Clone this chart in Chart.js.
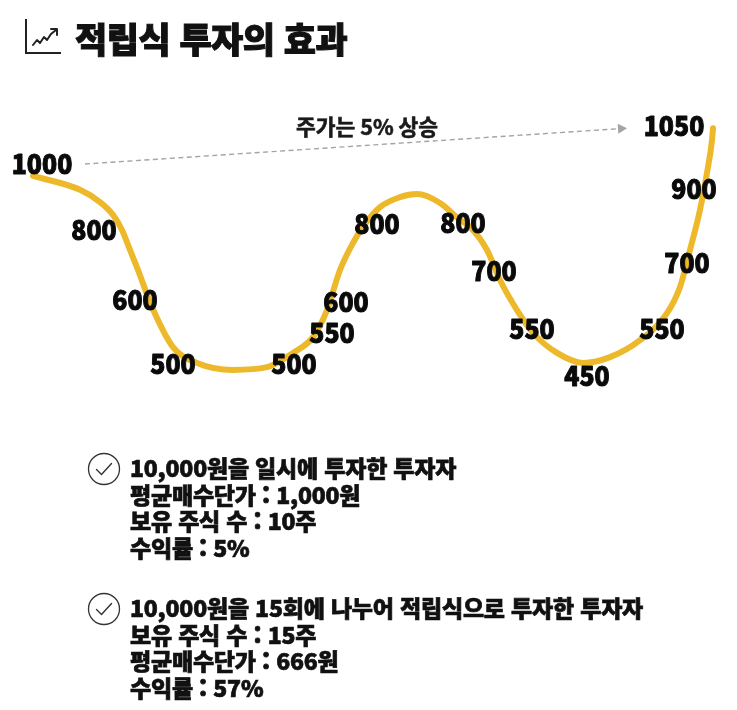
<!DOCTYPE html>
<html lang="ko">
<head>
<meta charset="utf-8">
<script src="https://cdn.jsdelivr.net/npm/chart.js@4.4.1/dist/chart.umd.min.js"></script>
<style>
  html,body{margin:0;padding:0;background:#fff;}
  body{width:737px;height:710px;position:relative;overflow:hidden;font-family:"Noto Sans CJK KR","Noto Sans",sans-serif;color:#111;}
  #wrap{position:absolute;left:0;top:0;width:737px;height:710px;}
  .title{position:absolute;left:75px;top:17px;font-size:35px;font-weight:900;line-height:42px;letter-spacing:-0.5px;white-space:nowrap;-webkit-text-stroke:1px #111;}
  .ticon{position:absolute;left:22px;top:16px;}
  .block{position:absolute;left:130px;font-size:23px;font-weight:900;line-height:26.5px;white-space:nowrap;letter-spacing:-0.2px;-webkit-text-stroke:0.7px #111;}
  .check{position:absolute;left:87px;}
</style>
</head>
<body>
<div id="wrap"><canvas id="c" width="737" height="710"></canvas></div>

<svg class="ticon" width="42" height="42" viewBox="0 0 42 42">
  <polyline points="4,3 4,37 39,37" fill="none" stroke="#222" stroke-width="2"/>
  <polyline points="11,29 15,24 18,27 22,21 25,24 29,18 34,14" fill="none" stroke="#222" stroke-width="2" stroke-linejoin="round" stroke-linecap="round"/>
  <polyline points="29,13 35,13 35,19" fill="none" stroke="#222" stroke-width="2" stroke-linejoin="round" stroke-linecap="round"/>
</svg>
<div class="title" id="title"></div>

<svg class="check" style="top:452px" width="34" height="34" viewBox="0 0 34 34">
  <circle cx="17" cy="17" r="15.5" fill="none" stroke="#333" stroke-width="1.3"/>
  <polyline points="9.5,17.5 14.5,22.5 24.5,11.5" fill="none" stroke="#333" stroke-width="1.4" stroke-linecap="round" stroke-linejoin="round"/>
</svg>
<div class="block" id="b1" style="top:454px"></div>

<svg class="check" style="top:592px" width="34" height="34" viewBox="0 0 34 34">
  <circle cx="17" cy="17" r="15.5" fill="none" stroke="#333" stroke-width="1.3"/>
  <polyline points="9.5,17.5 14.5,22.5 24.5,11.5" fill="none" stroke="#333" stroke-width="1.4" stroke-linecap="round" stroke-linejoin="round"/>
</svg>
<div class="block" id="b2" style="top:594px"></div>

<script>
// ---------- DATA ----------
const titleText = '적립식 투자의 효과';

// Stylised price curve (x: period, y: drawn price level)
const curveX = [0, 4.7, 6.7, 8.0, 8.9, 9.7, 10.5, 11.9, 14.0, 16.4, 20.0, 23.4, 26.0, 28.0, 29.4, 30.7, 32.0, 33.0, 34.7, 36.7, 38.4, 40.7, 42.7, 43.7, 45.4, 46.7, 48.4, 50.0, 52.4, 55.0, 57.7, 60.7, 63.4, 64.7, 65.7, 66.7, 67.4, 67.9, 68.0];
const curveY = [1003, 967, 935, 902, 863, 811, 759, 663, 559, 518, 500, 507, 544, 585, 655, 759, 829, 871, 922, 948, 956, 933, 889, 871, 811, 733, 655, 596, 544, 518, 533, 577, 647, 715, 811, 915, 1011, 1096, 1127];

// Price labels (15 purchases + final price) and where they sit along the curve
const priceLabels = [1000, 800, 600, 500, 500, 550, 600, 800, 800, 700, 550, 450, 550, 700, 900, 1050];
const labelX = [0.9, 6.1, 10.2, 14.0, 26.1, 29.9, 31.3, 34.4, 43.0, 46.1, 49.9, 55.4, 62.9, 65.4, 66.1, 64.1];
const labelY = [1034, 863, 681, 515, 515, 596, 676, 878, 881, 756, 606, 484, 606, 777, 969, 1133];

// Dashed arrow annotation (start price 1000 -> end price 1050)
const arrowX = [5.2, 59.4];
const arrowY = [1034, 1127];
const arrowText = '주가는 5% 상승';
const arrowTextX = 33.4;
const arrowTextY = 1130;

// Summary text
const lumpSum = ['10,000원을 일시에 투자한 투자자', '평균매수단가 : 1,000원', '보유 주식 수 : 10주', '수익률 : 5%'];
const dca = ['10,000원을 15회에 나누어 적립식으로 투자한 투자자', '보유 주식 수 : 15주', '평균매수단가 : 666원', '수익률 : 57%'];

// ---------- TEXT ----------
document.getElementById('title').textContent = titleText;
document.getElementById('b1').innerHTML = lumpSum.map(s => '<div>' + s + '</div>').join('');
document.getElementById('b2').innerHTML = dca.map(s => '<div>' + s + '</div>').join('');

// ---------- CHART ----------
const annot = {
  id: 'annot',
  afterDatasetsDraw(chart) {
    const ctx = chart.ctx, xs = chart.scales.x, ys = chart.scales.y;
    ctx.save();
    // dashed arrow
    const x1 = xs.getPixelForValue(arrowX[0]), y1 = ys.getPixelForValue(arrowY[0]);
    const x2 = xs.getPixelForValue(arrowX[1]), y2 = ys.getPixelForValue(arrowY[1]);
    const ang = Math.atan2(y2 - y1, x2 - x1);
    const head = 9;
    ctx.strokeStyle = '#a4a4a4';
    ctx.lineWidth = 1.4;
    ctx.setLineDash([5, 3.5]);
    ctx.beginPath();
    ctx.moveTo(x1, y1);
    ctx.lineTo(x2 - head * Math.cos(ang), y2 - head * Math.sin(ang));
    ctx.stroke();
    ctx.setLineDash([]);
    ctx.fillStyle = '#a4a4a4';
    ctx.beginPath();
    ctx.moveTo(x2, y2);
    ctx.lineTo(x2 - head * Math.cos(ang) + 5 * Math.sin(ang), y2 - head * Math.sin(ang) - 5 * Math.cos(ang));
    ctx.lineTo(x2 - head * Math.cos(ang) - 5 * Math.sin(ang), y2 - head * Math.sin(ang) + 5 * Math.cos(ang));
    ctx.closePath();
    ctx.fill();
    // arrow text
    ctx.fillStyle = '#1a1a1a';
    ctx.strokeStyle = '#1a1a1a';
    ctx.lineWidth = 0.6;
    ctx.font = '700 21.5px "Noto Sans CJK KR", sans-serif';
    ctx.textAlign = 'center';
    ctx.textBaseline = 'middle';
    const tx = xs.getPixelForValue(arrowTextX), ty = ys.getPixelForValue(arrowTextY);
    ctx.fillText(arrowText, tx, ty);
    ctx.strokeText(arrowText, tx, ty);
    // price labels
    ctx.fillStyle = '#0a0a0a';
    ctx.strokeStyle = '#0a0a0a';
    ctx.lineWidth = 1.0;
    ctx.lineJoin = 'round';
    ctx.font = '900 27px "Noto Sans CJK KR", sans-serif';
    priceLabels.forEach((v, i) => {
      const px = xs.getPixelForValue(labelX[i]), py = ys.getPixelForValue(labelY[i]);
      ctx.save();
      ctx.translate(px, py);
      ctx.scale(0.92, 1);
      ctx.fillText(String(v), 0, 0);
      ctx.strokeText(String(v), 0, 0);
      ctx.restore();
    });
    ctx.restore();
  }
};

new Chart(document.getElementById('c'), {
  type: 'scatter',
  data: {
    datasets: [{
      data: curveX.map((x, i) => ({ x: x, y: curveY[i] })),
      showLine: true,
      borderColor: '#EDB82A',
      borderWidth: 6,
      pointRadius: 0,
      pointHoverRadius: 0,
      cubicInterpolationMode: 'monotone',
      borderCapStyle: 'round',
      borderJoinStyle: 'round',
      clip: false
    }]
  },
  options: {
    responsive: false,
    animation: false,
    events: [],
    layout: { padding: { left: 33, right: 24, top: 100, bottom: 290 } },
    plugins: { legend: { display: false }, tooltip: { enabled: false } },
    scales: {
      x: { type: 'linear', display: false, min: 0, max: 68 },
      y: { type: 'linear', display: false, min: 370, max: 1200 }
    }
  },
  plugins: [annot]
});
</script>
</body>
</html>
